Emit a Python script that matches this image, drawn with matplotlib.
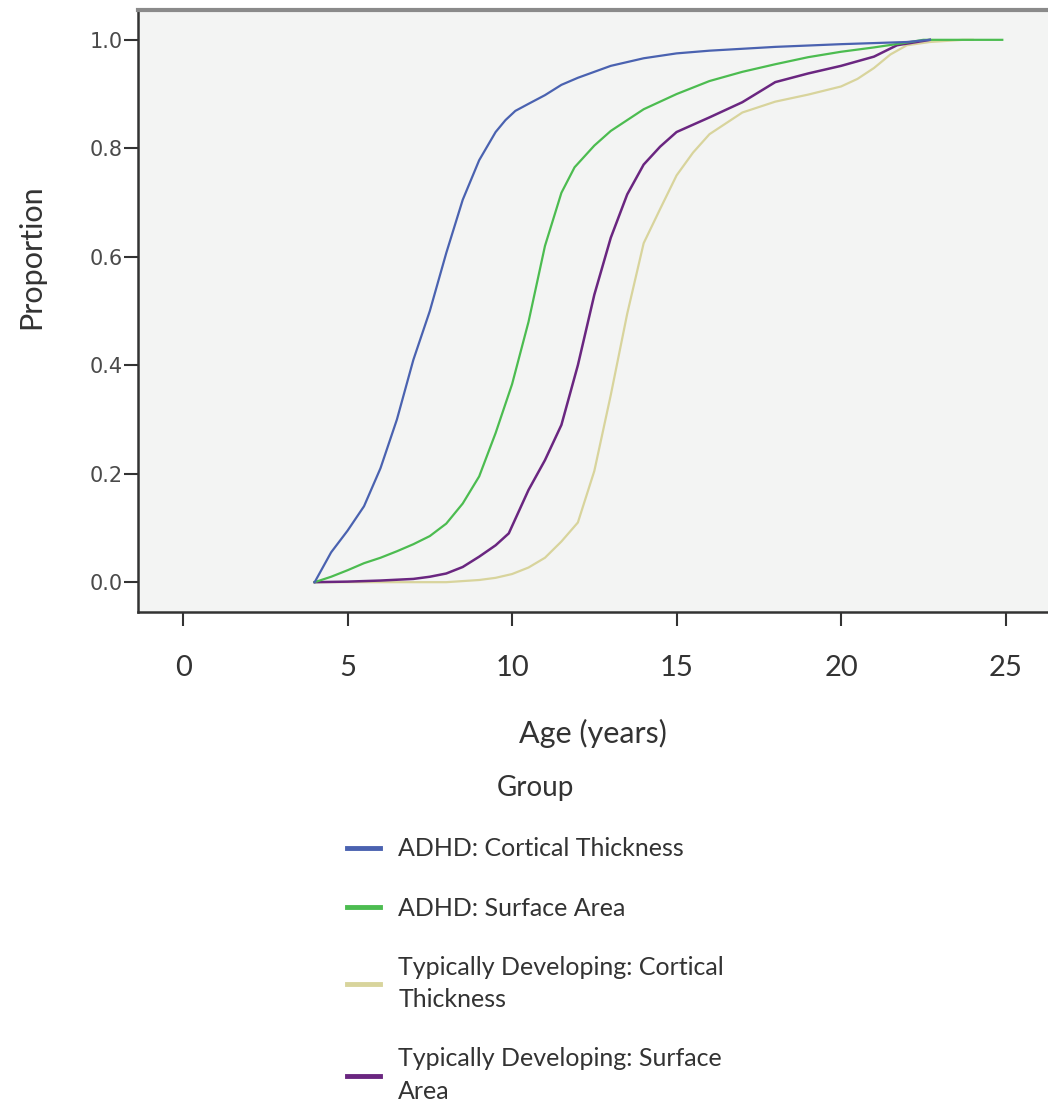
import matplotlib
matplotlib.use("Agg")
import matplotlib.pyplot as plt
from matplotlib.lines import Line2D

# cumulative proportion curves
ct_adhd_x = [4.0, 4.5, 5.0, 5.5, 6.0, 6.5, 7.0, 7.5, 8.0, 8.5, 9.0, 9.5, 9.8, 10.1, 10.5,
             11.0, 11.5, 12.0, 13.0, 14.0, 15.0, 16.0, 18.0, 20.0, 22.0, 22.7]
ct_adhd_y = [0.0, 0.055, 0.095, 0.14, 0.21, 0.30, 0.41, 0.50, 0.607, 0.705, 0.778, 0.83, 0.852, 0.869, 0.882,
             0.898, 0.917, 0.93, 0.952, 0.966, 0.975, 0.980, 0.987, 0.992, 0.996, 1.0]

sa_adhd_x = [4.0, 4.5, 5.0, 5.5, 6.0, 6.5, 7.0, 7.5, 8.0, 8.5, 9.0, 9.5, 10.0, 10.5, 11.0, 11.5,
             11.9, 12.5, 13.0, 14.0, 15.0, 16.0, 17.0, 18.0, 19.0, 20.0, 21.0, 22.0, 22.5, 24.9]
sa_adhd_y = [0.0, 0.01, 0.022, 0.035, 0.045, 0.057, 0.07, 0.085, 0.108, 0.145, 0.195, 0.275, 0.365, 0.48, 0.62, 0.718,
             0.765, 0.805, 0.832, 0.872, 0.9, 0.924, 0.941, 0.955, 0.968, 0.978, 0.986, 0.995, 1.0, 1.0]

ct_td_x = [4.0, 8.0, 9.0, 9.5, 10.0, 10.5, 11.0, 11.5, 12.0, 12.5, 13.0, 13.5, 14.0, 14.5, 15.0, 15.5,
           16.0, 17.0, 18.0, 19.0, 20.0, 20.5, 21.0, 21.5, 22.0, 22.7, 23.7, 24.0]
ct_td_y = [0.0, 0.0, 0.004, 0.008, 0.015, 0.027, 0.045, 0.075, 0.11, 0.205, 0.345, 0.495, 0.625, 0.688, 0.75, 0.792,
           0.826, 0.866, 0.886, 0.899, 0.914, 0.928, 0.948, 0.973, 0.99, 0.996, 1.0, 1.0]

sa_td_x = [4.0, 5.0, 6.0, 7.0, 7.5, 8.0, 8.5, 9.0, 9.5, 9.9, 10.5, 11.0, 11.5, 12.0, 12.5, 13.0, 13.5,
           14.0, 14.5, 15.0, 16.0, 17.0, 18.0, 19.0, 20.0, 21.0, 21.7, 22.7]
sa_td_y = [0.0, 0.001, 0.003, 0.006, 0.01, 0.016, 0.028, 0.047, 0.068, 0.09, 0.17, 0.225, 0.29, 0.40, 0.53, 0.635, 0.715,
           0.77, 0.803, 0.83, 0.857, 0.885, 0.922, 0.938, 0.952, 0.969, 0.99, 1.0]

labels = ["ADHD: Cortical Thickness", "ADHD: Surface Area",
          "Typically Developing: Cortical\nThickness", "Typically Developing: Surface\nArea"]
colors = ["#4a62b0", "#4cbc50", "#d8d49c", "#6a2680"]
x_ticks = [0, 5, 10, 15, 20, 25]
y_ticks = [0.0, 0.2, 0.4, 0.6, 0.8, 1.0]

plt.rcParams['font.family'] = ['Lato', 'DejaVu Sans']

W, H = 1048, 1107
fig = plt.figure(figsize=(W / 100, H / 100), dpi=100)
ax = fig.add_axes([138 / W, 1 - 612 / H, (W - 138) / W, 602 / H])
ax.set_facecolor("#f3f4f3")

# yellow under purple, blue on top
ax.plot(ct_td_x, ct_td_y, color=colors[2], lw=1.6, zorder=2)
ax.plot(sa_td_x, sa_td_y, color=colors[3], lw=1.8, zorder=3)
ax.plot(sa_adhd_x, sa_adhd_y, color=colors[1], lw=1.6, zorder=4)
ax.plot(ct_adhd_x, ct_adhd_y, color=colors[0], lw=1.6, zorder=5)

ax.set_xlim(-1.37, 26.29)
ax.set_ylim(-0.055, 1.055)
ax.set_xticks(x_ticks)
ax.set_yticks(y_ticks)
ax.set_yticklabels([f"{v:.1f}" for v in y_ticks], family='DejaVu Sans', fontsize=15, color="#4a4a4a")
ax.tick_params(axis='x', length=10, width=1.5, color="#333333", pad=21, labelsize=21, labelcolor="#333333")
ax.tick_params(axis='y', length=10, width=1.5, color="#333333", pad=1)

for s in ["left", "bottom"]:
    ax.spines[s].set_color("#333333")
    ax.spines[s].set_linewidth(1.8)
ax.spines["top"].set_color("#8a8a8a")
ax.spines["top"].set_linewidth(3)
ax.spines["right"].set_visible(False)

ax.set_xlabel("Age (years)", fontsize=22, color="#333333")
ax.xaxis.set_label_coords(0.5, -0.178)
ax.set_ylabel("Proportion", fontsize=22, color="#333333")
ax.yaxis.set_label_coords(-0.102, 0.59)

handles = [Line2D([], [], color=c, lw=3.5) for c in colors]
leg = fig.legend(handles, labels, title="Group", loc="upper left",
                 bbox_to_anchor=(347 / W, 1 - 775 / H), frameon=False,
                 fontsize=18, title_fontsize=20, handlelength=1.3, handletextpad=0.75,
                 labelspacing=1.45, borderpad=0, borderaxespad=0)
leg.get_title().set_color("#333333")
for t in leg.get_texts():
    t.set_color("#333333")
    t.set_linespacing(1.5)

fig.savefig("out.png", dpi=100)
